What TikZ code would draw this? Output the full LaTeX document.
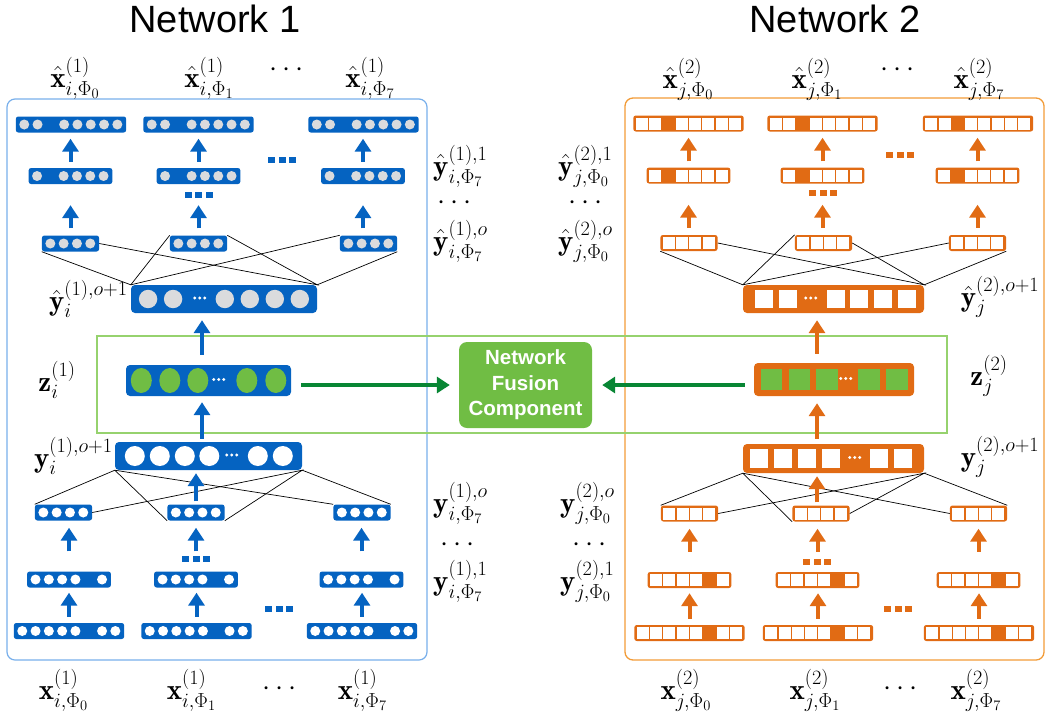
\RequirePackage{fix-cm}
\documentclass[tikz,border=0pt]{standalone}
\usepackage{fontspec}
\usepackage{amsmath}
\usetikzlibrary{positioning, arrows.meta, calc}
\newfontfamily\headfont{Liberation Sans}

\definecolor{netblue}{RGB}{5,99,193}
\definecolor{boxblue}{RGB}{120,175,235}
\definecolor{netorange}{RGB}{225,107,20}
\definecolor{boxorange}{RGB}{242,155,55}
\definecolor{fusegreen}{RGB}{112,189,68}
\definecolor{fuseline}{RGB}{150,210,110}
\definecolor{arrowgreen}{RGB}{8,134,52}
\definecolor{cellgray}{RGB}{218,219,221}

\tikzset{
    bvec/.style={fill=netblue, rounded corners=2.5pt, inner sep=0pt, minimum height=16pt},
    ovec/.style={fill=netorange, rounded corners=2.5pt, inner sep=0pt, minimum height=16pt},
    barrow/.style={draw=netblue, line width=4pt, -{Triangle[width=16pt,length=13pt]}},
    oarrow/.style={draw=netorange, line width=4pt, -{Triangle[width=16pt,length=13pt]}},
    garrow/.style={draw=arrowgreen, line width=3.5pt, -{Triangle[width=16pt,length=13pt]}},
    link/.style={draw=black, line width=0.7pt},
    lab/.style={font=\fontsize{29}{34}\selectfont, inner sep=0pt},
    ellip/.style={lab, text height=9pt, text depth=0pt},
    title/.style={font=\headfont\fontsize{38}{44}\selectfont, inner sep=0pt},
    gapdots/.style={inner sep=0pt},
}

% cells of the small layers: slot k sits 8.65+13.3k from the west end
\newcommand{\circslots}[3]{\foreach \k in {#2} \fill[#3] ($(#1.west)+({8.65+13.3*\k},0)$) circle (5pt);}
\newcommand{\sqslots}[2]{\foreach \k in {#2} \fill[white] ($(#1.west)+({8.65+13.3*\k},0)$) ++(-6pt,-6pt) rectangle ++(12pt,12pt);}
% cells of the wide layers, at given offsets
\newcommand{\bigcircs}[4]{\foreach \p in {#2} \fill[#3] ($(#1.west)+(\p,0)$) circle (#4);}
\newcommand{\bigsqs}[5]{\foreach \p in {#2} \fill[#3] ($(#1.west)+(\p,0)$) ++(-#4,-#4) rectangle ++(#5,#5);}
\newcommand{\middots}[2]{\foreach \d in {-5,0,5} \fill[white] ($(#1.west)+(#2+\d,-1)$) circle (1.6pt);}
\newcommand{\dotrow}{\rule{7pt}{6pt}\hspace{3.5pt}\rule{7pt}{6pt}\hspace{3.5pt}\rule{7pt}{6pt}}

\begin{document}
\begin{tikzpicture}[x=1pt, y=-1pt]
    \useasboundingbox (0,0) rectangle (1046,721);

    % frames
    \draw[boxblue, line width=1.2pt, rounded corners=8pt] (7,99) rectangle (427,660);
    \draw[boxorange, line width=1.3pt, rounded corners=8pt] (625,98) rectangle (1044,660);
    \draw[fuseline, line width=1.3pt] (97,336) rectangle (947,433);

    \node[title] (title1) at (215,19) {Network 1};
    \node[title] (title2) at (835,19) {Network 2};

    % ---------- network 1 ----------
    \foreach \n/\cx in {1/71, 2/198.5, 3/363.5} {
        \node[bvec, minimum width=110.4pt] (n1xhat\n) at (\cx,124.5) {};
        \circslots{n1xhat\n}{0,1,3,4,5,6,7}{cellgray}
    }
    \foreach \n/\cx in {1/70.5, 2/198.5, 3/363} {
        \node[bvec, minimum width=83.8pt] (n1yhatone\n) at (\cx,176) {};
        \circslots{n1yhatone\n}{0,2,3,4,5}{cellgray}
    }
    \foreach \n/\cx in {1/70.5, 2/198.5, 3/368.5} {
        \node[bvec, minimum width=57.2pt] (n1yhato\n) at (\cx,243.5) {};
        \circslots{n1yhato\n}{0,1,2,3}{cellgray}
    }
    \node[bvec, minimum width=186pt, minimum height=28pt, rounded corners=4pt] (n1yhatp) at (224,299) {};
    \bigcircs{n1yhatp}{17.3,42.3,94,119,144,169}{cellgray}{9.2pt}
    \middots{n1yhatp}{69}

    \node[bvec, minimum width=165pt, minimum height=31pt, rounded corners=4pt] (n1z) at (208.5,380.5) {};
    \foreach \p in {15.5,44,72,121,150} \fill[fusegreen] ($(n1z.west)+(\p,0)$) ellipse (10.5pt and 12.5pt);
    \middots{n1z}{93}

    \node[bvec, minimum width=187pt, minimum height=28pt, rounded corners=4pt] (n1yp) at (208.5,456) {};
    \bigcircs{n1yp}{20,45,70,94.5,143,168}{white}{10pt}
    \middots{n1yp}{117}

    \foreach \n/\cx in {1/63.5, 2/196, 3/362} {
        \node[bvec, minimum width=57.2pt] (n1yo\n) at (\cx,512.5) {};
        \circslots{n1yo\n}{0,1,2,3}{white}
    }
    \foreach \n/\cx in {1/69, 2/196, 3/361.5} {
        \node[bvec, minimum width=83.8pt] (n1yone\n) at (\cx,579.5) {};
        \circslots{n1yone\n}{0,1,2,3,5}{white}
    }
    \foreach \n/\cx in {1/69, 2/196.5, 3/362} {
        \node[bvec, minimum width=110.4pt] (n1x\n) at (\cx,631) {};
        \circslots{n1x\n}{0,1,2,3,4,6,7}{white}
    }

    \node[gapdots, text=netblue] (n1gapa) at (282,160) {\dotrow};
    \node[gapdots, text=netblue] (n1gapb) at (198.5,195) {\dotrow};
    \node[gapdots, text=netblue] (n1gapc) at (196,559) {\dotrow};
    \node[gapdots, text=netblue] (n1gapd) at (279,609) {\dotrow};

    \draw[link] (n1yhato1.south west) -- (n1yhatp.north west) -- (n1yhato2.north west);
    \draw[link] (n1yhatp.north west) -- (n1yhato3.north west);
    \draw[link] (n1yhato1.east) -- (n1yhatp.north east) -- (n1yhato2.north east);
    \draw[link] (n1yhatp.north east) -- (n1yhato3.south east);
    \draw[link] (n1yo1.north west) -- (n1yp.south west) -- (n1yo2.south west);
    \draw[link] (n1yp.south west) -- (n1yo3.north west);
    \draw[link] (n1yo1.east) -- (n1yp.south east) -- (n1yo2.south east);
    \draw[link] (n1yp.south east) -- (n1yo3.north east);

    \foreach \n in {1,2,3} {
        \draw[barrow, shorten <=6pt, shorten >=6pt] (n1yhatone\n.north) -- (n1yhatone\n.north |- n1xhat\n.south);
        \draw[barrow, shorten <=7pt, shorten >=21pt] (n1yhatone\n.south |- n1yhato\n.north) -- (n1yhatone\n.south);
        \draw[barrow, shorten <=20pt, shorten >=7pt] (n1yone\n.north) -- (n1yone\n.north |- n1yo\n.south);
        \draw[barrow, shorten <=6pt, shorten >=5pt] (n1x\n.north) -- (n1x\n.north |- n1yone\n.south);
    }
    \coordinate (n1axis) at (202,0);
    \draw[barrow, shorten <=10pt, shorten >=7pt] (n1z.north -| n1axis) -- (n1yhatp.south -| n1axis);
    \draw[barrow, shorten <=3pt, shorten >=6pt] (n1yp.north -| n1axis) -- (n1z.south -| n1axis);
    \draw[barrow, shorten <=3pt, shorten >=3pt] (n1yo2.north) -- (n1yo2.north |- n1yp.south);

    % ---------- network 2 ----------
    \foreach \n/\cx in {1/688.5, 2/822.5, 3/978} {
        \node[ovec, minimum width=110.4pt] (n2xhat\n) at (\cx,123.5) {};
        \sqslots{n2xhat\n}{0,1,3,4,5,6,7}
    }
    \foreach \n/\cx in {1/688.5, 2/822.5, 3/977.5} {
        \node[ovec, minimum width=83.8pt] (n2yhatone\n) at (\cx,175.5) {};
        \sqslots{n2yhatone\n}{0,2,3,4,5}
    }
    \foreach \n/\cx in {1/689, 2/823.5, 3/977.5} {
        \node[ovec, minimum width=57.2pt] (n2yhato\n) at (\cx,243) {};
        \sqslots{n2yhato\n}{0,1,2,3}
    }
    \node[ovec, minimum width=181pt, minimum height=28pt, rounded corners=4pt] (n2yhatp) at (833.5,299) {};
    \bigsqs{n2yhatp}{21,45,93,116,140,164}{white}{9pt}{18pt}
    \middots{n2yhatp}{68}

    \node[ovec, minimum width=160pt, minimum height=33pt, rounded corners=4pt] (n2z) at (834,379.5) {};
    \bigsqs{n2z}{17.8,45.5,73,115,143}{fusegreen}{10.75pt}{21.5pt}
    \middots{n2z}{92}

    \node[ovec, minimum width=181pt, minimum height=29pt, rounded corners=4pt] (n2yp) at (833.5,458.5) {};
    \bigsqs{n2yp}{16,40,64,88,136,160}{white}{9.25pt}{18.5pt}
    \middots{n2yp}{112}

    \foreach \n/\cx in {1/689.5, 2/821, 3/978.5} {
        \node[ovec, minimum width=57.2pt] (n2yo\n) at (\cx,513.5) {};
        \sqslots{n2yo\n}{0,1,2,3}
    }
    \foreach \n/\cx in {1/689.5, 2/817.5, 3/978.5} {
        \node[ovec, minimum width=83.8pt] (n2yone\n) at (\cx,580) {};
        \sqslots{n2yone\n}{0,1,2,3,5}
    }
    \foreach \n/\cx in {1/689.5, 2/818, 3/979} {
        \node[ovec, minimum width=110.4pt] (n2x\n) at (\cx,633) {};
        \sqslots{n2x\n}{0,1,2,3,4,6,7}
    }

    \node[gapdots, text=netorange] (n2gapa) at (900,155) {\dotrow};
    \node[gapdots, text=netorange] (n2gapb) at (823,193) {\dotrow};
    \node[gapdots, text=netorange] (n2gapc) at (817,562) {\dotrow};
    \node[gapdots, text=netorange] (n2gapd) at (898,609) {\dotrow};

    \draw[link] (n2yhato1.south west) -- (n2yhatp.north west) -- (n2yhato2.north west);
    \draw[link] (n2yhatp.north west) -- (n2yhato3.west);
    \draw[link] (n2yhato1.east) -- (n2yhatp.north east) -- (n2yhato2.east);
    \draw[link] (n2yhatp.north east) -- (n2yhato3.south east);
    \draw[link] (n2yo1.north west) -- (n2yp.south west) -- (n2yo2.south west);
    \draw[link] (n2yp.south west) -- (n2yo3.west);
    \draw[link] (n2yo1.east) -- (n2yp.south east) -- (n2yo2.east);
    \draw[link] (n2yp.south east) -- (n2yo3.north east);

    \foreach \n in {1,2,3} {
        \draw[oarrow, shorten <=6pt, shorten >=6pt] (n2yhatone\n.north) -- (n2yhatone\n.north |- n2xhat\n.south);
        \draw[oarrow, shorten <=7pt, shorten >=21pt] (n2yhatone\n.south |- n2yhato\n.north) -- (n2yhatone\n.south);
        \draw[oarrow, shorten <=20pt, shorten >=7pt] (n2yone\n.north) -- (n2yone\n.north |- n2yo\n.south);
        \draw[oarrow, shorten <=6pt, shorten >=5pt] (n2x\n.north) -- (n2x\n.north |- n2yone\n.south);
    }
    \coordinate (n2axis) at (817,0);
    \draw[oarrow, shorten <=9pt, shorten >=7pt] (n2z.north -| n2axis) -- (n2yhatp.south -| n2axis);
    \draw[oarrow, shorten <=5pt, shorten >=7pt] (n2yp.north -| n2axis) -- (n2z.south -| n2axis);
    \draw[oarrow, shorten <=3pt, shorten >=3pt] (n2yo2.north -| n2axis) -- (n2yp.south -| n2axis);

    % ---------- fusion ----------
    \node[fill=fusegreen, rounded corners=8pt, minimum width=133pt, minimum height=86pt,
          text=white, align=center, font=\headfont\bfseries\fontsize{20.5}{25.5}\selectfont] (fusion) at (525.5,385) {Network\\Fusion\\Component};
    \draw[garrow, shorten <=10pt, shorten >=9pt] (n1z.east |- fusion.west) -- (fusion.west);
    \draw[garrow, shorten <=9pt, shorten >=10pt] (n2z.west |- fusion.east) -- (fusion.east);

    % ---------- labels ----------
    \node[lab] (n1lxhat1) at (75,78) {$\hat{\mathbf{x}}^{(1)}_{i,\Phi_0}$};
    \node[lab] (n1lxhat2) at (209,78) {$\hat{\mathbf{x}}^{(1)}_{i,\Phi_1}$};
    \node[ellip] (n1lxhatd) at (289,72) {$\cdots$};
    \node[lab] (n1lxhat3) at (370,78) {$\hat{\mathbf{x}}^{(1)}_{i,\Phi_7}$};
    \node[lab] (n2lxhat1) at (688,79) {$\hat{\mathbf{x}}^{(2)}_{j,\Phi_0}$};
    \node[lab] (n2lxhat2) at (817,79) {$\hat{\mathbf{x}}^{(2)}_{j,\Phi_1}$};
    \node[ellip] (n2lxhatd) at (900,72) {$\cdots$};
    \node[lab] (n2lxhat3) at (979,79) {$\hat{\mathbf{x}}^{(2)}_{j,\Phi_7}$};

    \node[lab] (n1lx1) at (63.5,690) {$\mathbf{x}^{(1)}_{i,\Phi_0}$};
    \node[lab] (n1lx2) at (191.5,690) {$\mathbf{x}^{(1)}_{i,\Phi_1}$};
    \node[ellip] (n1lxd) at (282,691) {$\cdots$};
    \node[lab] (n1lx3) at (362.5,690) {$\mathbf{x}^{(1)}_{i,\Phi_7}$};
    \node[lab] (n2lx1) at (686,690) {$\mathbf{x}^{(2)}_{j,\Phi_0}$};
    \node[lab] (n2lx2) at (815,690) {$\mathbf{x}^{(2)}_{j,\Phi_1}$};
    \node[ellip] (n2lxd) at (903,691) {$\cdots$};
    \node[lab] (n2lx3) at (976,690) {$\mathbf{x}^{(2)}_{j,\Phi_7}$};

    \node[lab, anchor=west] (n1lyhatone) at (433,166) {$\hat{\mathbf{y}}^{(1),1}_{i,\Phi_7}$};
    \node[ellip] (n1lyhatd) at (457,205) {$\cdots$};
    \node[lab, anchor=west] (n1lyhato) at (433,241) {$\hat{\mathbf{y}}^{(1),o}_{i,\Phi_7}$};
    \node[lab, anchor=west] (n2lyhatone) at (558,166) {$\hat{\mathbf{y}}^{(2),1}_{j,\Phi_0}$};
    \node[ellip] (n2lyhatd) at (588,205) {$\cdots$};
    \node[lab, anchor=west] (n2lyhato) at (558,241) {$\hat{\mathbf{y}}^{(2),o}_{j,\Phi_0}$};

    \node[lab, anchor=west] (n1lyo) at (433,503) {$\mathbf{y}^{(1),o}_{i,\Phi_7}$};
    \node[ellip] (n1lyd) at (460,547) {$\cdots$};
    \node[lab, anchor=west] (n1lyone) at (433,581) {$\mathbf{y}^{(1),1}_{i,\Phi_7}$};
    \node[lab, anchor=west] (n2lyo) at (560,503) {$\mathbf{y}^{(2),o}_{j,\Phi_0}$};
    \node[ellip] (n2lyd) at (592,547) {$\cdots$};
    \node[lab, anchor=west] (n2lyone) at (560,581) {$\mathbf{y}^{(2),1}_{j,\Phi_0}$};

    \node[lab, left=3pt of n1yhatp] (n1lyhatp) {$\hat{\mathbf{y}}^{(1),o+1}_{i}$};
    \node[lab] (n1lz) at (57,380) {$\mathbf{z}^{(1)}_{i}$};
    \node[lab, left=2pt of n1yp] (n1lyp) {$\mathbf{y}^{(1),o+1}_{i}$};
    \node[lab] (n2lyhatp) at (1000,297) {$\hat{\mathbf{y}}^{(2),o+1}_{j}$};
    \node[lab] (n2lz) at (989,376) {$\mathbf{z}^{(2)}_{j}$};
    \node[lab] (n2lyp) at (1000,457) {$\mathbf{y}^{(2),o+1}_{j}$};
\end{tikzpicture}
\end{document}
